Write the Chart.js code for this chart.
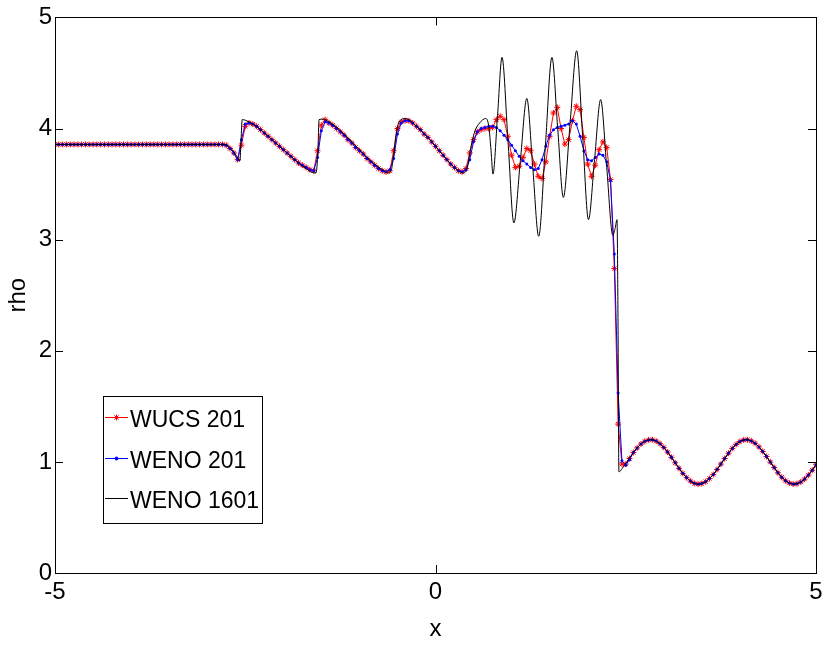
<!DOCTYPE html>
<html>
<head>
<meta charset="utf-8">
<script src="https://cdn.jsdelivr.net/npm/chart.js@4.4.0/dist/chart.umd.min.js"></script>
<style>
  html, body { margin: 0; padding: 0; background: #fff; }
</style>
</head>
<body>
<canvas id="myChart" width="828" height="648"></canvas>
<script>
// grid of the 201-point runs
const gridX = [
  -5, -4.95, -4.9, -4.85, -4.8, -4.75, -4.7, -4.65, -4.6, -4.55,
  -4.5, -4.45, -4.4, -4.35, -4.3, -4.25, -4.2, -4.15, -4.1, -4.05,
  -4, -3.95, -3.9, -3.85, -3.8, -3.75, -3.7, -3.65, -3.6, -3.55,
  -3.5, -3.45, -3.4, -3.35, -3.3, -3.25, -3.2, -3.15, -3.1, -3.05,
  -3, -2.95, -2.9, -2.85, -2.8, -2.75, -2.7, -2.65, -2.6, -2.55,
  -2.5, -2.45, -2.4, -2.35, -2.3, -2.25, -2.2, -2.15, -2.1, -2.05,
  -2, -1.95, -1.9, -1.85, -1.8, -1.75, -1.7, -1.65, -1.6, -1.55,
  -1.5, -1.45, -1.4, -1.35, -1.3, -1.25, -1.2, -1.15, -1.1, -1.05,
  -1, -0.95, -0.9, -0.85, -0.8, -0.75, -0.7, -0.65, -0.6, -0.55,
  -0.5, -0.45, -0.4, -0.35, -0.3, -0.25, -0.2, -0.15, -0.1, -0.05,
  0, 0.05, 0.1, 0.15, 0.2, 0.25, 0.3, 0.35, 0.4, 0.45,
  0.5, 0.55, 0.6, 0.65, 0.7, 0.75, 0.8, 0.85, 0.9, 0.95,
  1, 1.05, 1.1, 1.15, 1.2, 1.25, 1.3, 1.35, 1.4, 1.45,
  1.5, 1.55, 1.6, 1.65, 1.7, 1.75, 1.8, 1.85, 1.9, 1.95,
  2, 2.05, 2.1, 2.15, 2.2, 2.25, 2.3, 2.35, 2.4, 2.45,
  2.5, 2.55, 2.6, 2.65, 2.7, 2.75, 2.8, 2.85, 2.9, 2.95,
  3, 3.05, 3.1, 3.15, 3.2, 3.25, 3.3, 3.35, 3.4, 3.45,
  3.5, 3.55, 3.6, 3.65, 3.7, 3.75, 3.8, 3.85, 3.9, 3.95,
  4, 4.05, 4.1, 4.15, 4.2, 4.25, 4.3, 4.35, 4.4, 4.45,
  4.5, 4.55, 4.6, 4.65, 4.7, 4.75, 4.8, 4.85, 4.9, 4.95,
  5
]

// post-shock wave, x = 2.6 .. 5 (same for all three runs)
const tailY = [
  1.084, 1.126, 1.161, 1.185, 1.198, 1.199, 1.187, 1.164,
  1.130, 1.088, 1.041, 0.992, 0.942, 0.897, 0.858, 0.827, 0.807, 0.800,
  0.805, 0.822, 0.850, 0.886, 0.931, 0.980, 1.030, 1.078, 1.121, 1.157,
  1.183, 1.197, 1.199, 1.189, 1.167, 1.135, 1.094, 1.048, 0.998, 0.949,
  0.902, 0.862, 0.830, 0.809, 0.800, 0.804, 0.819, 0.845, 0.881, 0.925,
  0.974
]

// WUCS 201, x = -5 .. 2.55
const wucsHead = [
  3.857, 3.857, 3.857, 3.857, 3.857, 3.857, 3.857, 3.857, 3.857, 3.857,
  3.857, 3.857, 3.857, 3.857, 3.857, 3.857, 3.857, 3.857, 3.857, 3.857,
  3.857, 3.857, 3.857, 3.857, 3.857, 3.857, 3.857, 3.857, 3.857, 3.857,
  3.857, 3.857, 3.857, 3.857, 3.857, 3.857, 3.857, 3.857, 3.857, 3.857,
  3.857, 3.857, 3.857, 3.857, 3.857, 3.85, 3.82, 3.78, 3.72, 3.85,
  4.02, 4.05, 4.04, 4.02, 3.99, 3.96, 3.93, 3.90, 3.87, 3.84,
  3.81, 3.78, 3.75, 3.72, 3.69, 3.67, 3.65, 3.63, 3.62, 3.80,
  4.03, 4.08, 4.05, 4.03, 4.00, 3.97, 3.94, 3.90, 3.87, 3.83,
  3.80, 3.77, 3.73, 3.70, 3.67, 3.64, 3.62, 3.61, 3.62, 3.80,
  4.00, 4.06, 4.07, 4.07, 4.05, 4.02, 3.99, 3.95, 3.92, 3.88,
  3.84, 3.80, 3.76, 3.72, 3.68, 3.65, 3.62, 3.61, 3.64, 3.78,
  3.90, 3.97, 3.99, 4.00, 4.00, 4.01, 4.08, 4.11, 4.08, 3.93,
  3.76, 3.65, 3.66, 3.74, 3.82, 3.80, 3.68, 3.57, 3.55, 3.70,
  3.93, 4.14, 4.19, 4.00, 3.86, 3.90, 4.07, 4.20, 4.17, 3.92,
  3.68, 3.57, 3.67, 3.81, 3.88, 3.83, 3.54, 2.74, 1.34, 0.98,
  0.98, 1.03
]

// WENO 201, x = -5 .. 2.55
const wenoHead = [
  3.857, 3.857, 3.857, 3.857, 3.857, 3.857, 3.857, 3.857, 3.857, 3.857,
  3.857, 3.857, 3.857, 3.857, 3.857, 3.857, 3.857, 3.857, 3.857, 3.857,
  3.857, 3.857, 3.857, 3.857, 3.857, 3.857, 3.857, 3.857, 3.857, 3.857,
  3.857, 3.857, 3.857, 3.857, 3.857, 3.857, 3.857, 3.857, 3.857, 3.857,
  3.857, 3.857, 3.857, 3.857, 3.857, 3.85, 3.82, 3.78, 3.72, 3.90,
  4.04, 4.05, 4.04, 4.02, 3.99, 3.96, 3.93, 3.90, 3.87, 3.84,
  3.81, 3.78, 3.75, 3.72, 3.69, 3.67, 3.65, 3.63, 3.62, 3.74,
  3.98, 4.06, 4.05, 4.03, 4.00, 3.97, 3.94, 3.90, 3.87, 3.83,
  3.80, 3.77, 3.73, 3.70, 3.67, 3.64, 3.62, 3.61, 3.63, 3.73,
  3.95, 4.05, 4.07, 4.07, 4.05, 4.02, 3.99, 3.95, 3.92, 3.88,
  3.84, 3.80, 3.76, 3.72, 3.68, 3.65, 3.62, 3.61, 3.63, 3.72,
  3.88, 3.97, 4.00, 4.01, 4.02, 4.02, 4.01, 3.98, 3.94, 3.90,
  3.85, 3.80, 3.75, 3.71, 3.68, 3.65, 3.63, 3.64, 3.72, 3.84,
  3.94, 3.99, 4.01, 4.02, 4.03, 4.04, 4.07, 4.04, 3.93, 3.80,
  3.72, 3.71, 3.74, 3.77, 3.76, 3.70, 3.53, 2.87, 1.62, 1.01,
  0.97, 1.02
]

// WENO 1601 reference, x = -5 .. 2.55 (then the tail)
const fineHeadX = [
  -5, -2.78, -2.70, -2.62, -2.57, -2.555, -2.54, -2.50, -2.40, -2.30,
  -2.20, -2.10, -2.00, -1.90, -1.80, -1.70, -1.62, -1.57, -1.545, -1.53,
  -1.48, -1.40, -1.30, -1.20, -1.10, -1.00, -0.90, -0.80, -0.70, -0.62,
  -0.58, -0.55, -0.52, -0.49, -0.45, -0.40, -0.35, -0.30, -0.20, -0.10,
  0, 0.10, 0.20, 0.30, 0.36, 0.41, 0.47, 0.52, 0.58, 0.66,
  0.70, 0.73, 0.755, 0.815, 0.874, 0.952, 1.03, 1.115, 1.20, 1.278,
  1.356, 1.443, 1.53, 1.605, 1.68, 1.768, 1.855, 1.933, 2.01, 2.09,
  2.17, 2.25, 2.33, 2.36, 2.385, 2.398, 2.41, 2.45, 2.50, 2.55
]
const fineHeadY = [
  3.857, 3.857, 3.83, 3.76, 3.71, 3.90, 4.08, 4.075, 4.04, 3.99,
  3.93, 3.87, 3.81, 3.75, 3.69, 3.64, 3.605, 3.60, 3.80, 4.08,
  4.085, 4.06, 4.01, 3.95, 3.88, 3.81, 3.74, 3.68, 3.63, 3.60,
  3.63, 3.76, 3.94, 4.04, 4.08, 4.09, 4.08, 4.05, 3.99, 3.92,
  3.84, 3.76, 3.68, 3.62, 3.60, 3.63, 3.85, 3.98, 4.05, 4.09,
  4.02, 3.80, 3.59, 4.115, 4.64, 3.895, 3.15, 3.71, 4.27, 3.65,
  3.03, 3.835, 4.64, 4.01, 3.38, 4.04, 4.70, 3.94, 3.18, 3.72,
  4.26, 3.65, 3.04, 3.10, 3.18, 2.3, 0.91, 0.938, 0.987, 1.037
]

const xTicks = [-5, 0, 5]
const yTicks = [0, 1, 2, 3, 4, 5]

const wucsY = wucsHead.concat(tailY)
const wenoY = wenoHead.concat(tailY)
const fineX = fineHeadX.concat(gridX.slice(152))
const fineY = fineHeadY.concat(tailY)

function pairs(xs, ys) {
  return xs.map((x, i) => ({ x: x, y: ys[i] }))
}

const FONT = "'Liberation Sans', Arial, Helvetica, sans-serif"

// box round the axes and ticks pointing inwards
const frame = {
  id: 'frame',
  afterDatasetsDraw(chart) {
    const { ctx, chartArea: a, scales } = chart
    ctx.save()
    ctx.strokeStyle = '#000'
    ctx.lineWidth = 1
    ctx.beginPath()
    for (const v of xTicks) {
      const px = Math.round(scales.x.getPixelForValue(v)) + 0.5
      ctx.moveTo(px, a.bottom); ctx.lineTo(px, a.bottom - 8)
      ctx.moveTo(px, a.top); ctx.lineTo(px, a.top + 8)
    }
    for (const v of yTicks) {
      const py = Math.round(scales.y.getPixelForValue(v)) + 0.5
      ctx.moveTo(a.left, py); ctx.lineTo(a.left + 8, py)
      ctx.moveTo(a.right, py); ctx.lineTo(a.right - 8, py)
    }
    ctx.stroke()
    ctx.strokeRect(Math.round(a.left) + 0.5, Math.round(a.top) + 0.5,
      Math.round(a.right - a.left), Math.round(a.bottom - a.top))
    ctx.restore()
  }
}

// legend in the lower left, matlab style
const legendBox = {
  id: 'legendBox',
  afterDraw(chart) {
    const ctx = chart.ctx
    const items = [
      { text: 'WUCS 201', color: '#ff0000', style: 'star', r: 3, y: 417 },
      { text: 'WENO 201', color: '#0000ff', style: 'circle', r: 1.5, y: 458 },
      { text: 'WENO 1601', color: '#000000', style: false, r: 0, y: 498 }
    ]
    ctx.save()
    ctx.fillStyle = '#fff'
    ctx.fillRect(103, 396, 159, 127)
    ctx.strokeStyle = '#000'
    ctx.lineWidth = 1
    ctx.strokeRect(103.5, 396.5, 159, 127)
    for (const it of items) {
      ctx.strokeStyle = it.color
      ctx.fillStyle = it.color
      ctx.beginPath()
      ctx.moveTo(105, it.y + 0.5)
      ctx.lineTo(128, it.y + 0.5)
      ctx.stroke()
      if (it.style) {
        Chart.helpers.drawPoint(ctx, { pointStyle: it.style, radius: it.r, rotation: 0, borderWidth: 1 }, 116.5, it.y + 0.5)
      }
      ctx.fillStyle = '#000'
      ctx.font = '23px ' + FONT
      ctx.textBaseline = 'middle'
      ctx.textAlign = 'left'
      ctx.fillText(it.text, 130, it.y + 4)
    }
    ctx.restore()
  }
}

const ctx = document.getElementById('myChart').getContext('2d')
const myChart = new Chart(ctx, {
  type: 'line',
  data: {
    datasets: [
      {
        label: 'WENO 1601',
        data: pairs(fineX, fineY),
        borderColor: '#000',
        borderWidth: 1,
        pointRadius: 0,
        cubicInterpolationMode: 'monotone',
        order: 0
      },
      {
        label: 'WENO 201',
        data: pairs(gridX, wenoY),
        borderColor: '#0000ff',
        backgroundColor: '#0000ff',
        borderWidth: 1,
        pointStyle: 'circle',
        pointRadius: 1.5,
        pointBorderWidth: 0,
        tension: 0,
        order: 1
      },
      {
        label: 'WUCS 201',
        data: pairs(gridX, wucsY),
        borderColor: '#ff0000',
        backgroundColor: '#ff0000',
        borderWidth: 1,
        pointStyle: 'star',
        pointRadius: 3,
        pointBorderWidth: 1,
        tension: 0,
        order: 2
      }
    ]
  },
  options: {
    responsive: false,
    animation: false,
    devicePixelRatio: 1,
    layout: { padding: { top: 14, right: 12, left: 0, bottom: 0 } },
    plugins: {
      legend: { display: false },
      tooltip: { enabled: false }
    },
    scales: {
      x: {
        type: 'linear',
        min: -5,
        max: 5,
        afterFit: s => { s.height = 75 },
        afterBuildTicks: s => { s.ticks = xTicks.map(v => ({ value: v })) },
        ticks: { color: '#000', font: { family: FONT, size: 24 }, padding: 5, maxRotation: 0 },
        grid: { display: false, drawTicks: false },
        border: { display: false },
        title: { display: true, text: 'x', color: '#000', font: { family: FONT, size: 24 }, padding: { top: 0, bottom: 4 } }
      },
      y: {
        type: 'linear',
        min: 0,
        max: 5,
        afterFit: s => { s.width = 55 },
        afterBuildTicks: s => { s.ticks = yTicks.map(v => ({ value: v })) },
        ticks: { color: '#000', font: { family: FONT, size: 24 }, padding: 3 },
        grid: { display: false, drawTicks: false },
        border: { display: false },
        title: { display: true, text: 'rho', color: '#000', font: { family: FONT, size: 24 }, padding: { top: 4, bottom: 0 } }
      }
    }
  },
  plugins: [frame, legendBox]
})
</script>
</body>
</html>
